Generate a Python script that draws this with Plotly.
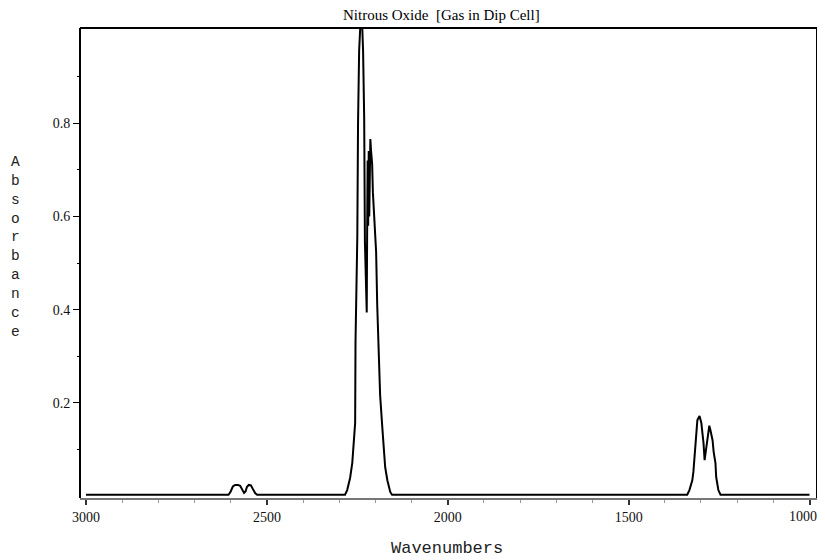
import plotly.graph_objects as go

# ---- data ----
wn_weak = [3000, 2606, 2600, 2594, 2588, 2580, 2574, 2568, 2563, 2559, 2555, 2550, 2544, 2538, 2532, 2527]
ab_weak = [0.003, 0.003, 0.010, 0.021, 0.024, 0.024, 0.022, 0.012, 0.007, 0.010, 0.020, 0.024, 0.023, 0.014, 0.006, 0.003]

wn_main = [2284, 2278, 2270, 2264, 2259, 2256, 2255, 2250, 2248, 2245, 2241, 2237, 2234, 2231, 2229,
           2224, 2223, 2221.5, 2220, 2218.5, 2217, 2215.5, 2214, 2212, 2209, 2207, 2203, 2198, 2195,
           2190, 2187, 2181, 2173, 2167, 2159, 2154]
ab_main = [0.003, 0.013, 0.039, 0.071, 0.120, 0.157, 0.330, 0.557, 0.800, 0.955, 1.020, 1.020, 0.953, 0.810, 0.545,
           0.394, 0.546, 0.720, 0.580, 0.740, 0.600, 0.750, 0.766, 0.740, 0.712, 0.652, 0.594, 0.523, 0.410,
           0.307, 0.217, 0.148, 0.062, 0.034, 0.009, 0.003]

wn_low = [1338, 1332, 1324, 1321, 1316, 1313, 1310, 1304, 1299, 1296, 1293, 1290, 1285, 1282, 1279, 1277,
          1274, 1268, 1265, 1260, 1258, 1252, 1246, 1000]
ab_low = [0.003, 0.013, 0.034, 0.052, 0.099, 0.135, 0.163, 0.172, 0.157, 0.135, 0.114, 0.077, 0.105, 0.127,
          0.146, 0.151, 0.142, 0.120, 0.095, 0.071, 0.041, 0.013, 0.003, 0.003]

x_ticks = [3000, 2500, 2000, 1500, 1000]
x_tick_labels = ["3000", "2500", "2000", "1500", "1000"]
y_ticks = [0.2, 0.4, 0.6, 0.8]
y_tick_labels = ["0.2", "0.4", "0.6", "0.8"]

wavenumbers = wn_weak + wn_main + wn_low
absorbance = ab_weak + ab_main + ab_low

fig = go.Figure()
fig.add_trace(go.Scatter(x=wavenumbers, y=absorbance, mode="lines",
                         line=dict(color="black", width=2), hoverinfo="skip"))

tick_font = dict(family="Liberation Serif", size=14, color="#111")

# the last tick label sits at the window edge; it is drawn right-aligned as an annotation
shown_x_labels = x_tick_labels[:-1] + [""]

# the page body has an 8px margin, so the figure is offset by 8px
fig.update_layout(
    width=817, height=552,
    margin=dict(l=72, r=8, t=20, b=62, autoexpand=False),
    paper_bgcolor="white", plot_bgcolor="white",
    showlegend=False,
    xaxis=dict(range=[3016.6, 979.3], tickvals=x_ticks, ticktext=shown_x_labels,
               ticks="outside", ticklen=5, tickwidth=2, tickcolor="#333",
               minor=dict(dtick=100, ticks="outside", ticklen=3, tickcolor="#999", tickwidth=1),
               showline=True, linecolor="#777", linewidth=2, showgrid=False, zeroline=False,
               tickfont=tick_font, automargin=False),
    yaxis=dict(range=[-0.004, 1.004], tickvals=y_ticks, ticktext=y_tick_labels,
               ticks="outside", ticklen=6, tickwidth=1, tickcolor="black",
               minor=dict(tickvals=[0.1, 0.3, 0.5, 0.7, 0.9], ticks="outside", ticklen=2, tickcolor="black"),
               showline=False, showgrid=False, zeroline=False, tickfont=tick_font, automargin=False),
)

fig.add_annotation(text=x_tick_labels[-1], xref="paper", yref="paper", x=1, y=0,
                   xanchor="right", yanchor="top", xshift=2, yshift=-9, showarrow=False,
                   font=tick_font)

# frame: left, top, right in black
for x0, y0, x1, y1 in [(0, 0, 0, 1), (0, 1, 1, 1), (1, 1, 1, 0)]:
    fig.add_shape(type="line", xref="paper", yref="paper", x0=x0, y0=y0, x1=x1, y1=y1,
                  line=dict(color="black", width=2))

fig.add_annotation(text="Nitrous Oxide  [Gas in Dip Cell]", xref="paper", yref="paper",
                   x=0.491, y=1, yanchor="bottom", yshift=3, showarrow=False,
                   font=dict(family="Liberation Serif", size=15, color="black"))
fig.add_annotation(text="Wavenumbers", xref="paper", yref="paper",
                   x=0.498, y=-0.1085, yanchor="middle", showarrow=False,
                   font=dict(family="Liberation Mono", size=17, color="#222"))
fig.add_annotation(text="<br>".join(list("Absorbance")), xref="paper", yref="paper",
                   x=-0.088, y=0.534, yanchor="middle", xanchor="center", showarrow=False,
                   font=dict(family="Liberation Mono", size=14.5, color="#222"))

fig.write_html("out.html")
